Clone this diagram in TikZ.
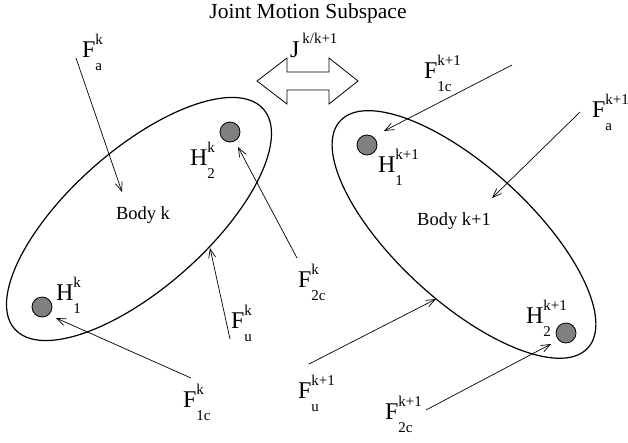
\documentclass[tikz,border=0pt]{standalone}
\usepackage{fontspec}
\setmainfont{Liberation Serif}
\usetikzlibrary{arrows.meta}
\newcommand{\bigsym}[3]{\fontsize{24}{24}\selectfont #1\rlap{\fontsize{15}{15}\selectfont\raisebox{13pt}{#2}}{\fontsize{15}{15}\selectfont\raisebox{-13.5pt}{#3}}}
\begin{document}
\begin{tikzpicture}[x=1pt,y=-1pt,
  lab/.style={anchor=base west, inner sep=0pt, outer sep=0pt},
  txt/.style={anchor=base, inner sep=0pt, outer sep=0pt},
  force/.style={line width=0.7pt, -{Straight Barb[length=9pt,width=7pt,line width=0.7pt]}},
  body/.style={line width=1.2pt},
  hinge/.style={circle, draw=black, fill=gray, line width=0.8pt, minimum size=20pt, inner sep=0pt},
  joint/.style={line width=0.8pt, line join=miter}]
\useasboundingbox (0,0) rectangle (628,442);

% title
\node[txt] (title) at (308,18) {\fontsize{21.5}{21.5}\selectfont Joint Motion Subspace};

% joint double arrow
\draw[joint] (257,81) -- (287,58) -- (287,72) -- (329,72) -- (329,58) -- (358,81)
  -- (329,104) -- (329,90) -- (287,90) -- (287,104) -- cycle;
\node[lab] (jlab) at (290,57) {\fontsize{24}{24}\selectfont J\kern3pt\raisebox{14pt}{\fontsize{15}{15}\selectfont k/k+1}};

% bodies
\coordinate (ck) at (139,219);
\coordinate (ck1) at (464,234.5);
\draw[body, rotate around={41.5:(ck)}] (ck) ellipse [x radius=166pt, y radius=69pt];
\draw[body, rotate around={-42.5:(ck1)}] (ck1) ellipse [x radius=168pt, y radius=67pt];

\node[txt] (bodyk) at (143,219) {\fontsize{18.5}{18.5}\selectfont Body k};
\node[txt] (bodyk1) at (454,225) {\fontsize{18.5}{18.5}\selectfont Body k+1};

% hinge points
\node[hinge] (h2k) at (230,132) {};
\node[hinge] (h1k) at (42,307) {};
\node[hinge] (h1k1) at (367,145) {};
\node[hinge] (h2k1) at (566,333) {};

% labels
\node[lab] (lfak)   at (82,57)   {\bigsym{F}{k}{a}};
\node[lab] (lh2k)   at (190,165) {\bigsym{H}{k}{2}};
\node[lab] (lh1k)   at (56,300)  {\bigsym{H}{k}{1}};
\node[lab] (lfuk)   at (231,328) {\bigsym{F}{k}{u}};
\node[lab] (lf1ck)  at (183,407) {\bigsym{F}{k}{1c}};
\node[lab] (lf2ck)  at (298,287) {\bigsym{F}{k}{2c}};
\node[lab] (lf1ck1) at (424,78)  {\bigsym{F}{k+1}{1c}};
\node[lab] (lfak1)  at (592,117) {\bigsym{F}{k+1}{a}};
\node[lab] (lh1k1)  at (378,172) {\bigsym{H}{k+1}{1}};
\node[lab] (lfuk1)  at (298,398) {\bigsym{F}{k+1}{u}};
\node[lab] (lh2k1)  at (526,323) {\bigsym{H}{k+1}{2}};
\node[lab] (lf2ck1) at (385,419) {\bigsym{F}{k+1}{2c}};

% force arrow ends
\coordinate (fak-t) at (76,58);    \coordinate (fak-h) at (122,192);
\coordinate (f2ck-t) at (297,258); \coordinate (f2ck-h) at (238,147);
\coordinate (fuk-t) at (230,339);  \coordinate (fuk-h) at (210,248);
\coordinate (f1ck-t) at (191,378); \coordinate (f1ck-h) at (56,318);
\coordinate (f1ck1-t) at (512,65); \coordinate (f1ck1-h) at (384,131);
\coordinate (fak1-t) at (580,112); \coordinate (fak1-h) at (492,198);
\coordinate (fuk1-t) at (309,364); \coordinate (fuk1-h) at (436,299);
\coordinate (f2ck1-t) at (426,410);\coordinate (f2ck1-h) at (551,344);

\draw[force] (fak-t) -- (fak-h);
\draw[force] (f2ck-t) -- (f2ck-h);
\draw[force] (fuk-t) -- (fuk-h);
\draw[force] (f1ck-t) -- (f1ck-h);
\draw[force] (f1ck1-t) -- (f1ck1-h);
\draw[force] (fak1-t) -- (fak1-h);
\draw[force] (fuk1-t) -- (fuk1-h);
\draw[force] (f2ck1-t) -- (f2ck1-h);
\end{tikzpicture}
\end{document}
